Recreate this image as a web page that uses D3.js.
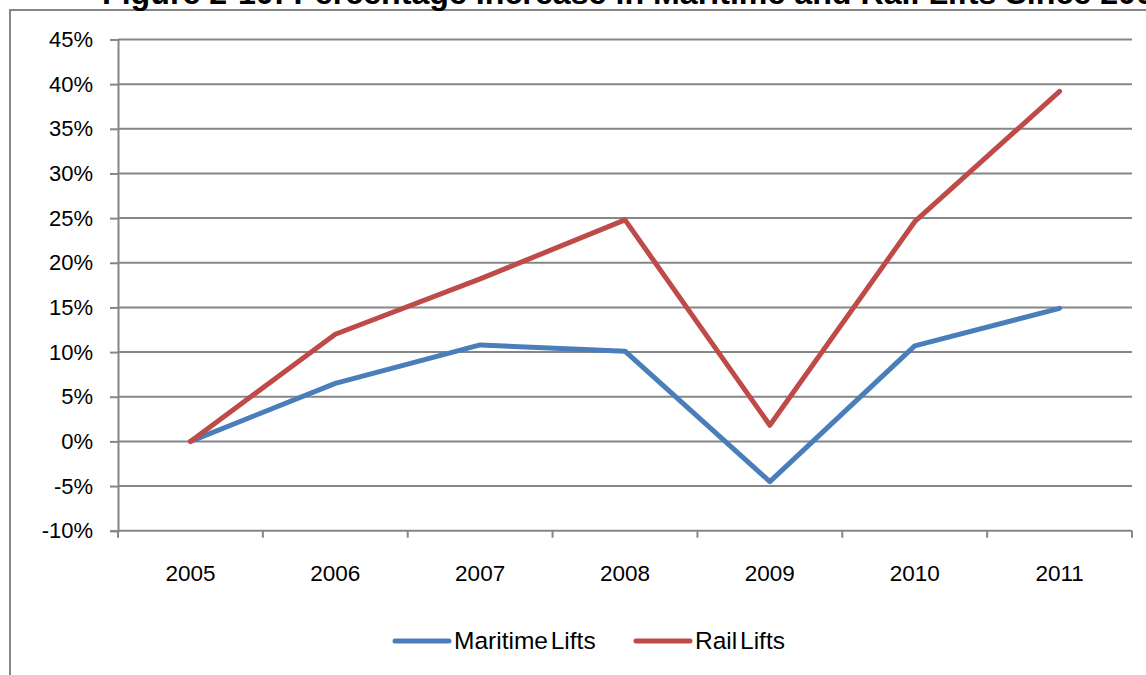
<!DOCTYPE html>
<html>
<head>
<meta charset="utf-8">
<script src="https://cdn.jsdelivr.net/npm/d3@7"></script>
<style>
  html, body { margin: 0; padding: 0; background: #fff; }
  svg { display: block; }
  text { font-family: "Liberation Sans", Arial, sans-serif; fill: #000; }
</style>
</head>
<body>
<svg id="chart" width="1146" height="675"></svg>
<script>
// Percentage increase in lifts relative to 2005
const years = ["2005", "2006", "2007", "2008", "2009", "2010", "2011"];
const maritimeLifts = [0, 6.5, 10.8, 10.1, -4.5, 10.7, 14.9];
const railLifts = [0, 12.0, 18.2, 24.8, 1.8, 24.6, 39.2];
const yTicks = [-10, -5, 0, 5, 10, 15, 20, 25, 30, 35, 40, 45];
const seriesNames = ["Maritime Lifts", "Rail Lifts"];
const titleText = "Figure 2-10: Percentage Increase in Maritime and Rail Lifts Since 2005";

const series = [
  { name: seriesNames[0], values: maritimeLifts, color: "#4A7EBB" },
  { name: seriesNames[1], values: railLifts, color: "#BE4B48" }
];

const svg = d3.select("#chart");
const gridColor = "#868686";

// Outer chart frame
svg.append("rect")
  .attr("x", 10).attr("y", 10)
  .attr("width", 1200).attr("height", 700)
  .attr("fill", "none")
  .attr("stroke", gridColor)
  .attr("stroke-width", 2);

// Title
svg.append("text")
  .attr("x", 102).attr("y", 4)
  .attr("font-size", 32.2)
  .attr("font-weight", "bold")
  .text(titleText);

const plot = { left: 118, right: 1132, top: 39.5, bottom: 530.7 };

const x = d3.scaleBand().domain(years).range([plot.left, plot.right]).padding(0);
const y = d3.scaleLinear().domain([-10, 45]).range([plot.bottom, plot.top]);

// Horizontal gridlines
svg.append("g")
  .selectAll("line")
  .data(yTicks.filter(t => t !== -10))
  .join("line")
  .attr("x1", plot.left).attr("x2", plot.right)
  .attr("y1", d => y(d)).attr("y2", d => y(d))
  .attr("stroke", gridColor).attr("stroke-width", 2);

// Y axis
const yAxis = svg.append("g")
  .attr("transform", `translate(${plot.left},0)`)
  .call(d3.axisLeft(y).tickValues(yTicks).tickSize(8).tickPadding(17)
    .tickFormat(d => d + "%"));
yAxis.select(".domain").attr("stroke", gridColor).attr("stroke-width", 2);
yAxis.selectAll(".tick line").attr("stroke", gridColor).attr("stroke-width", 2);
yAxis.selectAll(".tick text")
  .attr("font-size", 22)
  .attr("font-family", "Liberation Sans, Arial, sans-serif")
  .attr("fill", "#000");

// X axis with ticks at category boundaries
const xAxisG = svg.append("g");
xAxisG.append("line")
  .attr("x1", plot.left).attr("x2", plot.right)
  .attr("y1", y(-10)).attr("y2", y(-10))
  .attr("stroke", gridColor).attr("stroke-width", 2);
const boundaries = years.map(d => x(d)).concat([x(years[years.length - 1]) + x.bandwidth()]);
xAxisG.selectAll("line.tick")
  .data(boundaries)
  .join("line")
  .attr("class", "tick")
  .attr("x1", d => d).attr("x2", d => d)
  .attr("y1", y(-10)).attr("y2", y(-10) + 7)
  .attr("stroke", gridColor).attr("stroke-width", 2);
xAxisG.selectAll("text")
  .data(years)
  .join("text")
  .attr("x", d => x(d) + x.bandwidth() / 2)
  .attr("y", 581)
  .attr("text-anchor", "middle")
  .attr("font-size", 22.5)
  .text(d => d);

// Series lines
const line = d3.line()
  .x((d, i) => x(years[i]) + x.bandwidth() / 2)
  .y(d => y(d));

svg.append("g")
  .selectAll("path")
  .data(series)
  .join("path")
  .attr("d", d => line(d.values))
  .attr("fill", "none")
  .attr("stroke", d => d.color)
  .attr("stroke-width", 5)
  .attr("stroke-linejoin", "round")
  .attr("stroke-linecap", "round");

// Legend
const legendItems = [
  { name: series[0].name, color: series[0].color, x: 395 },
  { name: series[1].name, color: series[1].color, x: 636 }
];
const legend = svg.append("g");
legend.selectAll("line")
  .data(legendItems)
  .join("line")
  .attr("x1", d => d.x).attr("x2", d => d.x + 54)
  .attr("y1", 641).attr("y2", 641)
  .attr("stroke", d => d.color)
  .attr("stroke-width", 5)
  .attr("stroke-linecap", "round");
legend.selectAll("text")
  .data(legendItems)
  .join("text")
  .attr("x", d => d.x + 59)
  .attr("y", 649)
  .attr("font-size", 24.5)
  .attr("word-spacing", -4)
  .text(d => d.name);
</script>
</body>
</html>
